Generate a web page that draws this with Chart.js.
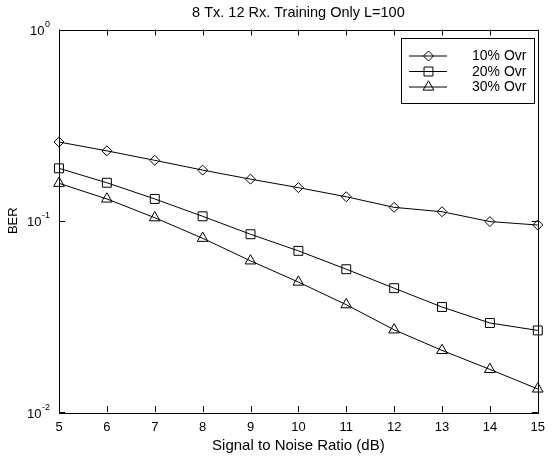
<!DOCTYPE html>
<html><head><meta charset="utf-8">
<script src="https://cdn.jsdelivr.net/npm/chart.js@4.4.1/dist/chart.umd.min.js"></script>
<style>html,body{margin:0;padding:0;background:#fff}#wrap{width:553px;height:461px}</style>
</head><body><div id="wrap"><canvas id="c" width="553" height="461"></canvas></div>
<script>
// ---- data ----
const snr = [5, 6, 7, 8, 9, 10, 11, 12, 13, 14, 15];
const ber10 = [0.258, 0.232, 0.207, 0.184, 0.165, 0.149, 0.1335, 0.1175, 0.1115, 0.099, 0.095];
const ber20 = [0.188, 0.158, 0.130, 0.1055, 0.085, 0.0696, 0.0558, 0.0444, 0.0354, 0.0292, 0.0267];
const ber30 = [0.157, 0.130, 0.1037, 0.081, 0.0617, 0.0478, 0.0364, 0.0269, 0.0210, 0.0167, 0.0132];
const seriesLabels = ['10% Ovr', '20% Ovr', '30% Ovr'];
const seriesMarkers = ['rectRot', 'rect', 'triangle'];
const xTickValues = [5, 6, 7, 8, 9, 10, 11, 12, 13, 14, 15];
const yTickValues = [0.01, 0.1, 1];
const yTickBase = ['10', '10', '10'];
const yTickExp = ['-2', '-1', '0'];
const titleText = '8 Tx. 12 Rx. Training Only L=100';
const xTitle = 'Signal to Noise Ratio (dB)';
const yTitle = 'BER';

const FONT = '"Liberation Sans", Arial, Helvetica, sans-serif';
const markerRadius = { rectRot: 5, rect: 6.3, triangle: 6.2 };

function markerPath(ctx, style, x, y, r) {
  ctx.beginPath();
  if (style === 'rectRot') {
    ctx.moveTo(x, y - r); ctx.lineTo(x + r, y); ctx.lineTo(x, y + r); ctx.lineTo(x - r, y);
  } else if (style === 'rect') {
    const s = Math.SQRT1_2 * r; ctx.rect(x - s, y - s, 2 * s, 2 * s);
  } else {
    for (let k = 0; k < 3; k++) {
      const a = k * 2 * Math.PI / 3;
      const px = x + Math.sin(a) * r, py = y - Math.cos(a) * r;
      if (k === 0) ctx.moveTo(px, py); else ctx.lineTo(px, py);
    }
  }
  ctx.closePath();
  ctx.stroke();
}

const decorPlugin = {
  id: 'decor',
  afterDraw(chart) {
    const ctx = chart.ctx, a = chart.chartArea;
    const xs = chart.scales.x, ys = chart.scales.y;
    ctx.save();
    ctx.strokeStyle = '#000'; ctx.lineWidth = 1;
    // frame
    ctx.strokeRect(Math.round(a.left) + 0.5, Math.round(a.top) + 0.5,
      Math.round(a.right - a.left), Math.round(a.bottom - a.top));
    // inward ticks
    const tl = 6;
    ctx.beginPath();
    xTickValues.forEach(v => {
      const px = Math.round(xs.getPixelForValue(v)) + 0.5;
      ctx.moveTo(px, a.bottom); ctx.lineTo(px, a.bottom - tl);
      ctx.moveTo(px, a.top); ctx.lineTo(px, a.top + tl);
    });
    yTickValues.forEach(v => {
      const py = Math.round(ys.getPixelForValue(v)) + 0.5;
      ctx.moveTo(a.left, py); ctx.lineTo(a.left + tl, py);
      ctx.moveTo(a.right, py); ctx.lineTo(a.right - tl, py);
    });
    ctx.stroke();
    // y tick labels with superscript exponent
    ctx.fillStyle = '#000';
    yTickValues.forEach((v, i) => {
      const py = ys.getPixelForValue(v);
      const rightX = a.left - 9;
      ctx.font = '9px ' + FONT;
      ctx.textAlign = 'right'; ctx.textBaseline = 'alphabetic';
      const ew = ctx.measureText(yTickExp[i]).width;
      ctx.fillText(yTickExp[i], rightX, py - 2.5);
      ctx.font = '13px ' + FONT;
      ctx.textBaseline = 'middle';
      ctx.fillText(yTickBase[i], rightX - ew - 0.5, py + 2);
    });
    // legend
    const bx = 401, by = 38, bw = 133, bh = 65;
    ctx.fillStyle = '#fff';
    ctx.fillRect(bx, by, bw, bh);
    ctx.strokeRect(bx + 0.5, by + 0.5, bw, bh);
    const rows = [55.5, 71, 86.5];
    chart.data.datasets.forEach((ds, i) => {
      const ry = rows[i];
      ctx.beginPath();
      ctx.moveTo(409, ry + 0.5); ctx.lineTo(447, ry + 0.5); ctx.stroke();
      markerPath(ctx, ds.pointStyle, 428.5, ry + 0.5, ds.pointRadius);
      ctx.fillStyle = '#000';
      ctx.font = '14px ' + FONT;
      ctx.textAlign = 'left'; ctx.textBaseline = 'middle';
      ctx.fillText(ds.label, 472, ry + 1);
    });
    ctx.restore();
  }
};

const sets = [ber10, ber20, ber30].map((vals, i) => ({
  label: seriesLabels[i],
  data: snr.map((x, j) => ({ x: x, y: vals[j] })),
  borderColor: '#000',
  borderWidth: 1,
  backgroundColor: 'rgba(0,0,0,0)',
  pointStyle: seriesMarkers[i],
  pointRadius: markerRadius[seriesMarkers[i]],
  pointBorderColor: '#000',
  pointBorderWidth: 1,
  pointBackgroundColor: 'rgba(0,0,0,0)',
  pointHoverRadius: markerRadius[seriesMarkers[i]],
  tension: 0,
  fill: false,
  clip: false
}));

new Chart(document.getElementById('c'), {
  type: 'line',
  data: { datasets: sets },
  options: {
    responsive: false,
    animation: false,
    devicePixelRatio: 1,
    layout: { autoPadding: false, padding: { left: 0, right: 6, top: 0, bottom: 0 } },
    plugins: {
      legend: { display: false },
      tooltip: { enabled: false },
      title: {
        display: true, text: titleText, fullSize: false, color: '#000',
        font: { family: FONT, size: 14.5, weight: 'normal' },
        padding: { top: 4.6, bottom: 7.5 }
      }
    },
    scales: {
      x: {
        type: 'linear', min: 5, max: 15,
        afterBuildTicks: s => { s.ticks = xTickValues.map(v => ({ value: v })); },
        afterFit: s => { s.height = 49; },
        grid: { display: false, drawTicks: false },
        border: { display: false },
        ticks: { color: '#000', padding: 8, maxRotation: 0, autoSkip: false,
          font: { family: FONT, size: 13 } },
        title: { display: true, text: xTitle, color: '#000',
          font: { family: FONT, size: 15 }, padding: { top: 0, bottom: 6 } }
      },
      y: {
        type: 'logarithmic', min: 0.01, max: 1,
        afterBuildTicks: s => { s.ticks = yTickValues.map(v => ({ value: v })); },
        afterFit: s => { s.width = 59; },
        grid: { display: false, drawTicks: false },
        border: { display: false },
        ticks: { display: false },
        title: { display: true, text: yTitle, color: '#000',
          font: { family: FONT, size: 13 }, padding: { top: 5.7, bottom: 0 } }
      }
    }
  },
  plugins: [decorPlugin]
});
</script>
</body></html>
